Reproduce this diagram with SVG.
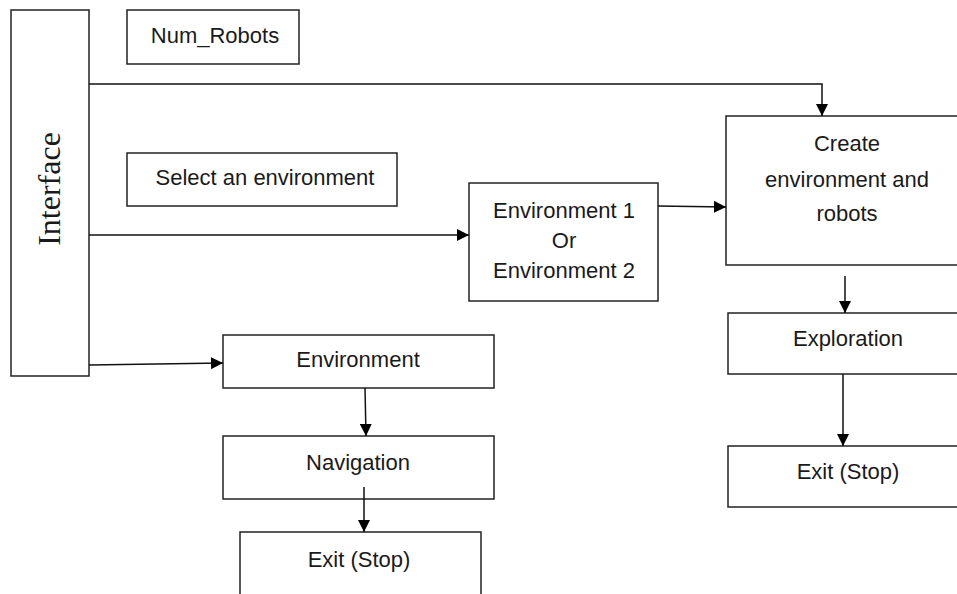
<svg xmlns="http://www.w3.org/2000/svg" width="957" height="594" viewBox="0 0 957 594">
<defs>
<marker id="ah" viewBox="0 0 10 10" refX="10" refY="5" markerWidth="12" markerHeight="12" markerUnits="userSpaceOnUse" orient="auto">
<path d="M0,0 L10,5 L0,10 Z" fill="#000"/>
</marker>
<style>
.box{fill:#fff;stroke:#222;stroke-width:1.5}
.t{font-family:"Liberation Sans",Arial,sans-serif;font-size:22px;fill:#1a1a1a;text-anchor:middle}
.c{fill:none;stroke:#111;stroke-width:1.5;marker-end:url(#ah)}
</style>
</defs>
<rect width="957" height="594" fill="#fff"/>
<g id="interface">
<rect class="box" x="11" y="10" width="78" height="366"/>
<text transform="translate(60,189) rotate(-90)" style="font-family:'Liberation Serif','Times New Roman',serif;font-size:32px;fill:#1a1a1a;text-anchor:middle">Interface</text>
</g>
<g id="num_robots">
<rect class="box" x="127" y="10" width="172" height="54"/>
<text class="t" x="215" y="43">Num_Robots</text>
</g>
<g id="select_env">
<rect class="box" x="127" y="153" width="270" height="53"/>
<text class="t" x="265" y="185">Select an environment</text>
</g>
<g id="env12">
<rect class="box" x="469" y="183" width="189" height="118"/>
<text class="t" x="564" y="218">Environment 1</text>
<text class="t" x="564" y="248">Or</text>
<text class="t" x="564" y="278">Environment 2</text>
</g>
<g id="create">
<rect class="box" x="726" y="116" width="240" height="149"/>
<text class="t" x="847" y="151">Create</text>
<text class="t" x="847" y="187">environment and</text>
<text class="t" x="847" y="221">robots</text>
</g>
<g id="exploration">
<rect class="box" x="728" y="313" width="240" height="61"/>
<text class="t" x="848" y="346">Exploration</text>
</g>
<g id="exit_right">
<rect class="box" x="728" y="446" width="240" height="61"/>
<text class="t" x="848" y="479">Exit (Stop)</text>
</g>
<g id="environment">
<rect class="box" x="223" y="335" width="271" height="53"/>
<text class="t" x="358" y="367">Environment</text>
</g>
<g id="navigation">
<rect class="box" x="223" y="436" width="271" height="63"/>
<text class="t" x="358" y="470">Navigation</text>
</g>
<g id="exit_left">
<rect class="box" x="240" y="532" width="241" height="70"/>
<text class="t" x="359" y="567">Exit (Stop)</text>
</g>
<g id="connectors">
<path class="c" d="M89,84 H822 V116"/>
<path class="c" d="M89,235 H469"/>
<path class="c" d="M658,206 L726,207"/>
<path class="c" d="M845,276 V313"/>
<path class="c" d="M89,365 L223,363"/>
<path class="c" d="M365,388 L366,436"/>
<path class="c" d="M364,487 V532"/>
<path class="c" d="M843,374 V446"/>
</g>
</svg>
